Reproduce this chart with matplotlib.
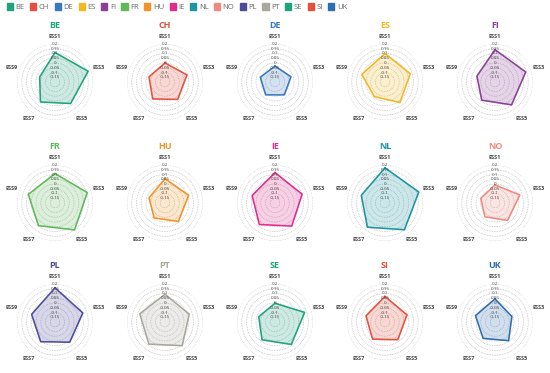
import numpy as np
import matplotlib.pyplot as plt
from matplotlib.patches import Patch

plt.rcParams['font.family'] = ['Open Sans', 'DejaVu Sans']

# ESS rounds (axes of each radar)
rounds = ['ESS1', 'ESS3', 'ESS5', 'ESS7', 'ESS9']
countries = ['BE', 'CH', 'DE', 'ES', 'FI', 'FR', 'HU', 'IE', 'NL', 'NO',
             'PL', 'PT', 'SE', 'SI', 'UK']
colors = ['#1fa37c', '#e4513e', '#3a79c1', '#f0b923', '#8b3f98', '#5fb85a',
          '#f29227', '#df2c8d', '#1b96a2', '#f08a80', '#4c4b9c', '#a9a89e',
          '#1fa37c', '#e4513e', '#2f6db2']

# values, order ESS1, ESS3, ESS5, ESS7, ESS9
BE = [0.11, 0.167, 0.08, 0.06, -0.03]
CH = [0.0, 0.043, 0.027, 0.02, -0.023]
DE = [-0.033, -0.023, -0.033, -0.033, -0.037]
ES = [0.1, 0.08, 0.067, -0.01, 0.057]
FI = [0.14, 0.14, 0.097, 0.037, 0.0]
FR = [0.11, 0.157, 0.15, 0.095, 0.095]
HU = [0.056, 0.062, 0.04, -0.006, -0.023]
IE = [0.12, 0.1, 0.1, 0.08, 0.053]
NL = [0.17, 0.174, 0.148, 0.115, 0.062]
NO = [-0.01, 0.075, 0.026, -0.02, -0.043]
PL = [0.16, 0.108, 0.063, 0.056, 0.059]
PT = [0.092, 0.068, 0.108, 0.088, 0.079]
SE = [-0.003, 0.128, 0.092, 0.032, -0.02]
SI = [0.069, 0.043, 0.03, 0.023, 0.01]
UK = [0.043, -0.013, 0.043, 0.013, 0.016]
data = [BE, CH, DE, ES, FI, FR, HU, IE, NL, NO, PL, PT, SE, SI, UK]

rings = [-0.15, -0.1, -0.05, 0, 0.05, 0.1, 0.15, 0.2]
ring_labels = ['-0.15', '-0.1', '-0.05', '0', '0.05', '0.1', '0.15', '0.2']

W, H = 550, 373
fig = plt.figure(figsize=(W / 100, H / 100), dpi=100)

angles = np.linspace(0, 2 * np.pi, len(rounds), endpoint=False)
row_y = [82, 203, 322]
R = 38

for k, name in enumerate(countries):
    cx = 55 + 110 * (k % 5)
    cy = row_y[k // 5]
    ax = fig.add_axes([(cx - R) / W, (H - cy - R) / H, 2 * R / W, 2 * R / H],
                      projection='polar')
    ax.set_theta_offset(np.pi / 2)
    ax.set_theta_direction(-1)
    ax.set_ylim(-0.2, 0.2)

    vals = data[k] + data[k][:1]
    ang = list(angles) + [angles[0]]
    ax.fill(ang, vals, color=colors[k], alpha=0.22, zorder=2)
    ax.plot(ang, vals, color=colors[k], lw=1.1, zorder=3)

    ax.set_yticks(rings)
    ax.set_yticklabels([])
    ax.yaxis.grid(True, color='#ababab', ls=(0, (1, 1.4)), lw=0.5)
    ax.xaxis.grid(False)
    ax.spines['polar'].set_visible(False)
    ax.set_xticks(angles)
    ax.set_xticklabels(rounds, fontsize=4, fontweight='bold', color='#444444')
    ax.tick_params(axis='x', pad=-5)
    for v, lab in zip(rings, ring_labels):
        ax.text(0, v, lab, ha='center', va='center', fontsize=3.2,
                color='#444444', zorder=4)

    fig.text(cx / W, 1 - (cy - 57) / H, name, ha='center', va='center',
             fontsize=6.5, fontweight='bold', color=colors[k])

handles = [Patch(facecolor=c, edgecolor=c) for c in colors]
fig.legend(handles, countries, loc='upper left', bbox_to_anchor=(0.0, 1.01),
           ncol=15, frameon=False, fontsize=5.5, handlelength=0.8,
           handleheight=1.0, handletextpad=0.35, columnspacing=0.7,
           labelcolor='#666666')

fig.savefig('out.png', dpi=100)
